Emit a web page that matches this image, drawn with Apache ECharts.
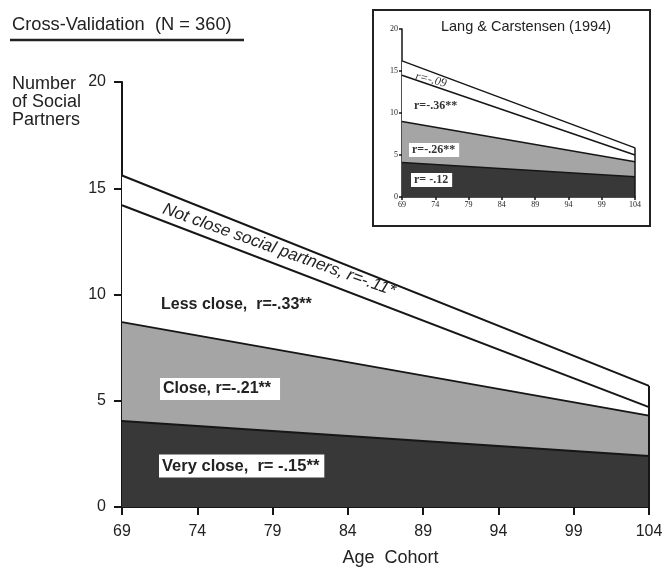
<!DOCTYPE html>
<html><head><meta charset="utf-8">
<script src="https://cdn.jsdelivr.net/npm/echarts@6/dist/echarts.min.js"></script>
<style>html,body{margin:0;padding:0;background:#fff}#c{width:671px;height:572px}</style>
</head><body><div id="c"></div>
<script>
// ---- data ----
const ages = [69, 104];
const tickAges = [69, 74, 79, 84, 89, 94, 99, 104];
// main chart (Cross-Validation), per-layer values at ages 69 and 104
const mainVeryClose = [4.05, 2.4];
const mainClose = [4.65, 1.9];
const mainLessClose = [5.5, 0.4];
const mainNotClose = [1.4, 1.0];
// inset (Lang & Carstensen 1994)
const insetVeryClose = [4.1, 2.4];
const insetClose = [4.9, 1.8];
const insetLessClose = [5.5, 0.8];
const insetNotClose = [1.7, 0.85];

const DARK = '#383838', GRAY = '#a5a5a5', WHITE = '#ffffff';
const SANS = '"Liberation Sans", Arial, sans-serif';
const SERIF = '"Liberation Serif", "Times New Roman", serif';

// cumulative (stacked) totals built from the layer arrays
function cumulate(layers){
  const out = []; let acc = ages.map(()=>0);
  layers.forEach(l=>{ acc = acc.map((v,i)=>v + l[i]); out.push(acc.slice()); });
  return out;
}
function pts(vals){ return ages.map((a,i)=>[a, vals[i]]); }
function layer(name, cum, color, gi, lw, edge){
  const s = {
    name, type:'line', xAxisIndex:gi, yAxisIndex:gi,
    data: pts(cum), symbol:'none', silent:true,
    lineStyle:{color:'#161616', width:lw},
    areaStyle:{color, opacity:1, origin:'start'}
  };
  if (edge){
    s.markLine = {symbol:'none', silent:true, label:{show:false},
      lineStyle:{color:'#161616', width:lw, type:'solid'},
      data:[[{coord:[ages[1],0]},{coord:[ages[1],cum[1]]}]]};
  }
  return s;
}
const mc = cumulate([mainVeryClose, mainClose, mainLessClose, mainNotClose]);
const ic = cumulate([insetVeryClose, insetClose, insetLessClose, insetNotClose]);

function xAxis(gi, fs, fam, margin, tickLen, lw){
  return {type:'value', gridIndex:gi, min:ages[0], max:ages[1],
    axisLine:{show:true, onZero:false, lineStyle:{color:'#161616', width:lw}},
    axisTick:{show:true, customValues:tickAges, length:tickLen, lineStyle:{color:'#161616', width:lw}},
    axisLabel:{customValues:tickAges, fontSize:fs, fontFamily:fam, color:'#222', margin},
    splitLine:{show:false}};
}
function yAxis(gi, fs, fam, margin, tickLen, lw){
  return {type:'value', gridIndex:gi, min:0, max:20, interval:5,
    axisLine:{show:true, lineStyle:{color:'#161616', width:lw}},
    axisTick:{show:true, length:tickLen, lineStyle:{color:'#161616', width:lw}},
    axisLabel:{fontSize:fs, fontFamily:fam, color:'#222', margin},
    splitLine:{show:false}};
}

const chart = echarts.init(document.getElementById('c'), null, {renderer:'canvas'});
const mx = xAxis(0, 16, SANS, 17, 8, 2);
mx.name = 'Age  Cohort'; mx.nameLocation = 'middle'; mx.nameGap = 42;
mx.nameTextStyle = {fontSize:18, fontFamily:SANS, color:'#222', padding:[0,0,0,10]};

chart.setOption({
  animation:false,
  backgroundColor:'#fff',
  grid:[
    {left:122, right:22, top:82, bottom:62},
    {left:402, right:36, top:29, bottom:375}
  ],
  xAxis:[ mx, xAxis(1, 8, SERIF, 4, 3, 1.5) ],
  yAxis:[ yAxis(0, 16, SANS, 16, 8, 2), yAxis(1, 8, SERIF, 4, 3, 1.5) ],
  series:[
    layer('Not close', mc[3], WHITE, 0, 2, true),
    layer('Less close', mc[2], WHITE, 0, 2),
    layer('Close', mc[1], GRAY, 0, 2),
    layer('Very close', mc[0], DARK, 0, 2),
    layer('Not close (1994)', ic[3], WHITE, 1, 1.5, true),
    layer('Less close (1994)', ic[2], WHITE, 1, 1.5),
    layer('Close (1994)', ic[1], GRAY, 1, 1.5),
    layer('Very close (1994)', ic[0], DARK, 1, 1.5)
  ],
  graphic:[
    {type:'text', x:12, y:25, z:100, style:{text:'Cross-Validation  (N = 360)', font:'18.3px '+SANS, fill:'#222', textVerticalAlign:'middle'}},
    {type:'line', z:100, shape:{x1:10, y1:40, x2:244, y2:40}, style:{stroke:'#222', lineWidth:2.5}},
    {type:'text', x:12, y:75, z:100, style:{text:'Number\nof Social\nPartners', font:'18px '+SANS, lineHeight:18, fill:'#222'}},
    {type:'rect', z:0, shape:{x:373, y:10, width:277, height:216}, style:{fill:'#fff', stroke:'#222', lineWidth:2}},
    {type:'text', x:526, y:27, z:100, style:{text:'Lang & Carstensen (1994)', font:'14.5px '+SANS, fill:'#222', textAlign:'center', textVerticalAlign:'middle'}},
    // main labels
    {type:'text', x:279, y:250, rotation:-19.7*Math.PI/180, z:100, style:{text:'Not close social partners, r=-.11*', font:'italic 17px '+SANS, fill:'#222', textAlign:'center', textVerticalAlign:'middle'}},
    {type:'text', x:161, y:305, z:100, style:{text:'Less close,  r=-.33**', font:'bold 16px '+SANS, fill:'#222', textVerticalAlign:'middle'}},
    {type:'text', x:160, y:389, z:100, style:{text:'Close, r=-.21**', font:'bold 16px '+SANS, fill:'#222', textVerticalAlign:'middle', backgroundColor:'#fff', padding:[3,9,3,3]}},
    {type:'text', x:159, y:466, z:100, style:{text:'Very close,  r= -.15**', font:'bold 16.5px '+SANS, fill:'#222', textVerticalAlign:'middle', backgroundColor:'#fff', padding:[3,5,3,3]}},
    // inset labels
    {type:'text', x:431, y:80, rotation:-14*Math.PI/180, z:100, style:{text:'r=-.09', font:'italic 12px '+SERIF, fill:'#333', textAlign:'center', textVerticalAlign:'middle'}},
    {type:'text', x:414, y:106, z:100, style:{text:'r=-.36**', font:'bold 12px '+SERIF, fill:'#333', textVerticalAlign:'middle'}},
    {type:'text', x:409, y:150, z:100, style:{text:'r=-.26**', font:'bold 12px '+SERIF, fill:'#333', textVerticalAlign:'middle', backgroundColor:'#fff', padding:[1,4,1,3]}},
    {type:'text', x:411, y:180, z:100, style:{text:'r= -.12', font:'bold 12px '+SERIF, fill:'#333', textVerticalAlign:'middle', backgroundColor:'#fff', padding:[1,4,1,3]}}
  ]
});
</script>
</body></html>
